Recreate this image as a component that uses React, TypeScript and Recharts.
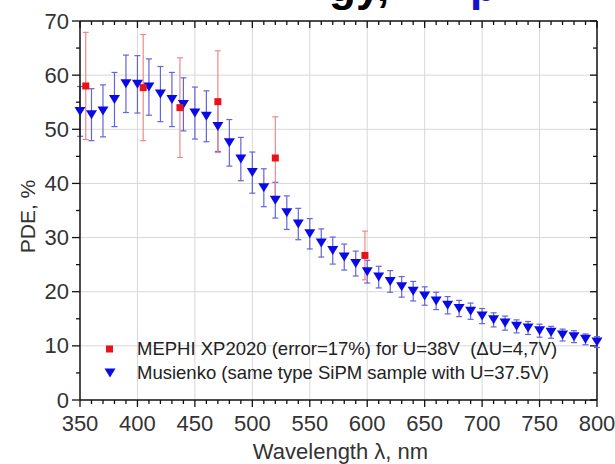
import React from 'react';
import { ScatterChart, Scatter, XAxis, YAxis, ErrorBar, Legend, Label } from 'recharts';

const FONT = '"Liberation Sans", Arial, Helvetica, sans-serif';

// axis ticks (major + minor)
const xTicks = [350, 360, 370, 380, 390, 400, 410, 420, 430, 440, 450, 460, 470, 480, 490, 500, 510, 520, 530, 540, 550, 560, 570, 580, 590, 600, 610, 620, 630, 640, 650, 660, 670, 680, 690, 700, 710, 720, 730, 740, 750, 760, 770, 780, 790, 800];
const yTicks = [0, 5, 10, 15, 20, 25, 30, 35, 40, 45, 50, 55, 60, 65, 70];
const xGrid = [400, 450, 500, 550, 600, 650, 700, 750];
const yGrid = [10, 20, 30, 40, 50, 60];
const xDomain = [350, 800];
const yDomain = [0, 70];

// Musienko data
const blueX = [350, 360, 370, 380, 390, 400, 410, 420, 430, 440, 450, 460, 470, 480, 490, 500, 510, 520, 530, 540, 550, 560, 570, 580, 590, 600, 610, 620, 630, 640, 650, 660, 670, 680, 690, 700, 710, 720, 730, 740, 750, 760, 770, 780, 790, 800];
const blueY = [53.3, 52.7, 53.4, 55.5, 58.4, 58.3, 57.8, 56.5, 55.5, 54.6, 53.0, 52.4, 50.5, 47.5, 44.5, 42.0, 39.2, 36.9, 34.6, 32.5, 30.7, 29.0, 27.6, 26.4, 25.2, 23.7, 22.7, 21.9, 20.9, 20.1, 19.2, 18.3, 17.5, 16.9, 16.4, 15.5, 14.8, 14.2, 13.6, 13.3, 12.8, 12.5, 12.0, 11.7, 11.2, 10.7];
const blueErr = [4.6, 4.8, 4.8, 5.0, 5.3, 5.3, 5.2, 5.1, 5.0, 4.9, 4.8, 4.7, 4.6, 4.3, 4.0, 3.8, 3.5, 3.3, 3.1, 2.9, 2.8, 2.6, 2.5, 2.4, 2.3, 2.1, 2.0, 2.0, 1.9, 1.8, 1.7, 1.6, 1.6, 1.5, 1.5, 1.4, 1.3, 1.3, 1.2, 1.2, 1.2, 1.1, 1.1, 1.1, 1.0, 1.0];

// MEPHI data
const redX = [355, 405, 437, 470, 520, 598];
const redY = [58.0, 57.7, 54.0, 55.1, 44.7, 26.7];
const redErr = [9.9, 9.8, 9.2, 9.4, 7.6, 4.5];

const redName = 'MEPHI XP2020 (error=17%) for U=38V  (\u0394U=4,7V)';
const blueName = 'Musienko (same type SiPM sample with U=37.5V)';

const blueData = blueX.map((x, i) => ({ x, y: blueY[i], err: blueErr[i] }));
const redData = redX.map((x, i) => ({ x, y: redY[i], err: redErr[i] }));

const BLUE = '#0a0ae6';
const RED = '#e8121a';
const INK = '#111';
const GRID = '#d8d8d8';

// layout
const W = 615;
const H = 464;
const M_TOP = 21;
const M_RIGHT = 18;
const Y_AXIS_W = 80;
const X_AXIS_H = 64;
const PLOT_L = Y_AXIS_W;
const PLOT_T = M_TOP;
const PLOT_W = W - M_RIGHT - Y_AXIS_W;
const PLOT_H = H - M_TOP - X_AXIS_H;

// same linear mapping as the chart's axes, used for the frame/grid underlay only
const sx = (v: number) => PLOT_L + ((v - xDomain[0]) / (xDomain[1] - xDomain[0])) * PLOT_W;
const sy = (v: number) => PLOT_T + ((yDomain[1] - v) / (yDomain[1] - yDomain[0])) * PLOT_H;

function DownTriangle(props: any) {
  const { cx, cy } = props;
  return <polygon points={`${cx - 5.5},${cy - 4.5} ${cx + 5.5},${cy - 4.5} ${cx},${cy + 4.5}`} fill={BLUE} />;
}

function Square(props: any) {
  const { cx, cy } = props;
  return <rect x={cx - 3.5} y={cy - 3.5} width={7} height={7} fill={RED} />;
}

function BottomTick(props: any) {
  const { x, y, payload } = props;
  const major = payload.value % 50 === 0;
  return (
    <g>
      <line x1={x} y1={y} x2={x} y2={y + (major ? 7 : 4)} stroke={INK} strokeWidth={1.3} />
      {major && (
        <text x={x} y={y + 31} textAnchor="middle" fontSize={22} fill="#333" fontFamily={FONT}>
          {payload.value}
        </text>
      )}
    </g>
  );
}

function LeftTick(props: any) {
  const { x, y, payload } = props;
  const major = payload.value % 10 === 0;
  return (
    <g>
      <line x1={x - (major ? 8 : 4)} y1={y} x2={x} y2={y} stroke={INK} strokeWidth={1.3} />
      {major && (
        <text x={x - 11} y={y + 7.5} textAnchor="end" fontSize={22} fill="#333" fontFamily={FONT}>
          {payload.value}
        </text>
      )}
    </g>
  );
}

// grid, top/right frame and inward ticks, drawn beneath the chart
function FrameUnderlay() {
  const right = PLOT_L + PLOT_W;
  const bottom = PLOT_T + PLOT_H;
  return (
    <svg width={W} height={H} style={{ position: 'absolute', left: 0, top: 0 }}>
      {xGrid.map((v) => (
        <line key={'gx' + v} x1={sx(v)} x2={sx(v)} y1={PLOT_T} y2={bottom} stroke={GRID} strokeWidth={1} />
      ))}
      {yGrid.map((v) => (
        <line key={'gy' + v} x1={PLOT_L} x2={right} y1={sy(v)} y2={sy(v)} stroke={GRID} strokeWidth={1} />
      ))}
      {xTicks.map((v) => (
        <line key={'tt' + v} x1={sx(v)} x2={sx(v)} y1={PLOT_T} y2={PLOT_T + (v % 50 === 0 ? 7 : 4)} stroke={INK} strokeWidth={1.3} />
      ))}
      {yTicks.map((v) => (
        <line key={'rt' + v} x1={right - (v % 10 === 0 ? 7 : 4)} x2={right} y1={sy(v)} y2={sy(v)} stroke={INK} strokeWidth={1.3} />
      ))}
      <line x1={PLOT_L} x2={right} y1={PLOT_T} y2={PLOT_T} stroke={INK} strokeWidth={1.5} />
      <line x1={right} x2={right} y1={PLOT_T} y2={bottom} stroke={INK} strokeWidth={1.5} />
    </svg>
  );
}

function LegendBox() {
  return (
    <div style={{ fontFamily: FONT, fontSize: 18.5, color: '#222', lineHeight: '24px' }}>
      <div style={{ display: 'flex', alignItems: 'center', whiteSpace: 'pre' }}>
        <svg width={20} height={12}>
          <rect x={8} y={2.5} width={7} height={7} fill={RED} />
        </svg>
        <span style={{ marginLeft: 19 }}>{redName}</span>
      </div>
      <div style={{ display: 'flex', alignItems: 'center', whiteSpace: 'pre' }}>
        <svg width={20} height={12}>
          <polygon points="6.5,1.5 17.5,1.5 12,10.5" fill={BLUE} />
        </svg>
        <span style={{ marginLeft: 19 }}>{blueName}</span>
      </div>
    </div>
  );
}

export default function App() {
  return (
    <div style={{ position: 'absolute', left: 0, top: 0, width: W, height: H, background: '#fff', overflow: 'hidden' }}>
      {/* cut-off slide title above the chart: only descenders show */}
      <div style={{ position: 'absolute', left: 329, top: -36, fontFamily: FONT, fontWeight: 'bold', fontSize: 44, lineHeight: '44px', color: '#000', whiteSpace: 'pre' }}>
        gy,
      </div>
      <div style={{ position: 'absolute', left: 470, top: -36, fontFamily: FONT, fontWeight: 'bold', fontSize: 44, lineHeight: '44px', color: '#1414c8' }}>
        p
      </div>
      <FrameUnderlay />
      <div style={{ position: 'absolute', left: 0, top: 0 }}>
        <ScatterChart width={W} height={H} margin={{ top: M_TOP, right: M_RIGHT, left: 0, bottom: 0 }}>
          <XAxis
            xAxisId="b"
            dataKey="x"
            type="number"
            domain={xDomain}
            ticks={xTicks}
            interval={0}
            height={X_AXIS_H}
            tickSize={0}
            tickMargin={0}
            tickLine={false}
            tick={<BottomTick />}
            axisLine={{ stroke: INK, strokeWidth: 1.5 }}
          >
            <Label
              content={(p: any) => {
                const vb = p.viewBox || {};
                return (
                  <text x={vb.x + vb.width / 2 + 2} y={vb.y + 59} textAnchor="middle" fontSize={22} fill="#333" fontFamily={FONT}>
                    Wavelength λ, nm
                  </text>
                );
              }}
            />
          </XAxis>
          <YAxis
            yAxisId="l"
            dataKey="y"
            type="number"
            domain={yDomain}
            ticks={yTicks}
            interval={0}
            width={Y_AXIS_W}
            tickSize={0}
            tickMargin={0}
            tickLine={false}
            tick={<LeftTick />}
            axisLine={{ stroke: INK, strokeWidth: 1.5 }}
          >
            <Label
              content={(p: any) => {
                const vb = p.viewBox || {};
                const cx = vb.x + 27;
                const cy = vb.y + vb.height / 2 + 6;
                return (
                  <text x={cx} y={cy} transform={`rotate(-90 ${cx} ${cy})`} textAnchor="middle" dominantBaseline="central" fontSize={21} fill="#333" fontFamily={FONT}>
                    PDE, %
                  </text>
                );
              }}
            />
          </YAxis>
          <Scatter name={blueName} data={blueData} xAxisId="b" yAxisId="l" shape={<DownTriangle />} isAnimationActive={false}>
            <ErrorBar dataKey="err" direction="y" width={3} stroke="#6464dc" strokeWidth={1.2} isAnimationActive={false} />
          </Scatter>
          <Scatter name={redName} data={redData} xAxisId="b" yAxisId="l" shape={<Square />} isAnimationActive={false}>
            <ErrorBar dataKey="err" direction="y" width={3} stroke="#ec8a8a" strokeWidth={1.2} isAnimationActive={false} />
          </Scatter>
          <Legend
            layout="horizontal"
            verticalAlign="middle"
            align="center"
            wrapperStyle={{ left: 98, top: 337, width: 510 }}
            content={() => <LegendBox />}
          />
        </ScatterChart>
      </div>
    </div>
  );
}
